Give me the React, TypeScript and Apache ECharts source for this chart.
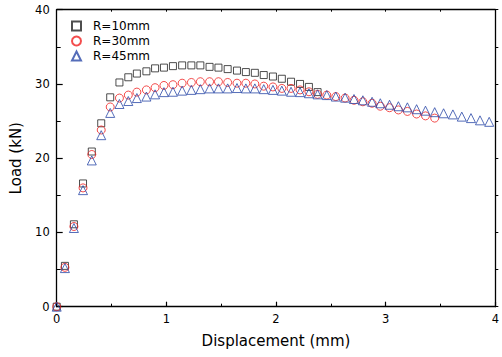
import React, { useEffect, useRef } from "react";
import * as echarts from "echarts";

// Displacement values (mm) shared by the three series
const displacement = [
  0, 0.075, 0.157, 0.24, 0.32, 0.406, 0.488, 0.572, 0.653, 0.731, 0.818, 0.897, 0.978,
  1.06, 1.144, 1.228, 1.31, 1.394, 1.475, 1.559, 1.644, 1.725, 1.807, 1.888, 1.972,
  2.053, 2.137, 2.219, 2.3, 2.379, 2.463, 2.545, 2.63, 2.711, 2.792, 2.876, 2.951,
  3.035, 3.116, 3.198, 3.282, 3.363, 3.447, 3.528, 3.613, 3.694, 3.778, 3.86, 3.944,
];

// Load (kN)
const loadR10 = [
  0, 5.5, 11.1, 16.6, 20.9, 24.7, 28.2, 30.2, 30.9, 31.4, 31.7, 32.1, 32.2, 32.4, 32.5,
  32.5, 32.5, 32.3, 32.2, 32.0, 31.8, 31.6, 31.5, 31.2, 31.0, 30.7, 30.3, 30.0, 29.6, 28.9,
];
const loadR30 = [
  0, 5.3, 10.8, 16.0, 20.5, 23.8, 26.9, 28.1, 28.5, 28.9, 29.2, 29.5, 29.8, 29.9, 30.1,
  30.2, 30.3, 30.3, 30.3, 30.2, 30.1, 30.1, 30.0, 29.7, 29.6, 29.4, 29.4, 29.2, 28.95,
  28.6, 28.5, 28.3, 28.1, 27.8, 27.6, 27.4, 27.0, 26.8, 26.5, 26.3, 25.95, 25.7, 25.4,
];
const loadR45 = [
  0, 5.2, 10.6, 15.7, 19.7, 23.1, 26.1, 27.3, 27.7, 28.1, 28.3, 28.6, 28.9, 28.95, 29.1,
  29.2, 29.3, 29.4, 29.4, 29.4, 29.45, 29.4, 29.4, 29.3, 29.2, 29.1, 28.95, 28.9, 28.75,
  28.6, 28.5, 28.3, 28.15, 27.97, 27.8, 27.6, 27.4, 27.2, 27.0, 26.85, 26.6, 26.4, 26.2,
  26.05, 25.9, 25.6, 25.4, 25.1, 24.9,
];

const seriesNames = ["R=10mm", "R=30mm", "R=45mm"];
const xTicks = [0, 1, 2, 3, 4];
const yTicks = [0, 10, 20, 30, 40];

const FONT = "DejaVu Sans";

function pairs(ys: number[]) {
  return ys.map((y, i) => [displacement[i], y]);
}

export default function App() {
  const ref = useRef<HTMLDivElement>(null);
  useEffect(() => {
    if (!ref.current) return;
    const chart = echarts.init(ref.current, null, { renderer: "svg" });
    const axisLine = { show: true, onZero: false, lineStyle: { color: "#000", width: 1.3 } };
    const option: any = {
      animation: false,
      backgroundColor: "#fff",
      grid: { left: 56.7, right: 3.7, top: 9.7, bottom: 50.3, containLabel: false },
      legend: {
        left: 66,
        top: 15,
        orient: "vertical",
        itemGap: 3,
        itemWidth: 9,
        itemHeight: 9,
        textStyle: { fontFamily: FONT, fontSize: 12, color: "#000", padding: [0, 0, 0, 7] },
        data: seriesNames,
      },
      xAxis: [
        {
          type: "value",
          min: xTicks[0],
          max: xTicks[xTicks.length - 1],
          interval: 1,
          name: "Displacement (mm)",
          nameLocation: "middle",
          nameGap: 27,
          nameTextStyle: { fontFamily: FONT, fontSize: 15, color: "#000" },
          axisLine,
          axisTick: { show: true, inside: true, length: 5, lineStyle: { color: "#000", width: 1.2 } },
          minorTick: { show: true, splitNumber: 2, length: 3, lineStyle: { color: "#000", width: 1 } },
          axisLabel: { fontFamily: FONT, fontSize: 11.5, color: "#000", margin: 6 },
          splitLine: { show: false },
        },
        {
          type: "value",
          position: "top",
          min: xTicks[0],
          max: xTicks[xTicks.length - 1],
          interval: 1,
          axisLine,
          axisTick: { show: true, inside: true, length: 2, lineStyle: { color: "#000" } },
          minorTick: { show: true, splitNumber: 2, length: 2, lineStyle: { color: "#000" } },
          axisLabel: { show: false },
          splitLine: { show: false },
        },
      ],
      yAxis: [
        {
          type: "value",
          min: yTicks[0],
          max: yTicks[yTicks.length - 1],
          interval: 10,
          name: "Load (kN)",
          nameLocation: "middle",
          nameGap: 33,
          nameTextStyle: { fontFamily: FONT, fontSize: 15, color: "#000" },
          axisLine,
          axisTick: { show: true, inside: true, length: 6, lineStyle: { color: "#000", width: 1.2 } },
          minorTick: { show: true, splitNumber: 2, length: 4, lineStyle: { color: "#000", width: 1 } },
          axisLabel: { fontFamily: FONT, fontSize: 11.5, color: "#000", margin: 7 },
          splitLine: { show: false },
        },
        {
          type: "value",
          position: "right",
          min: yTicks[0],
          max: yTicks[yTicks.length - 1],
          interval: 10,
          axisLine,
          axisTick: { show: true, inside: false, length: 3, lineStyle: { color: "#000" } },
          minorTick: { show: true, splitNumber: 2, length: 3, lineStyle: { color: "#000" } },
          axisLabel: { show: false },
          splitLine: { show: false },
        },
      ],
      series: [
        {
          name: seriesNames[0],
          type: "scatter",
          symbol: "rect",
          symbolSize: 7,
          itemStyle: { color: "rgba(255,255,255,0)", borderColor: "#222", borderWidth: 1 },
          data: pairs(loadR10),
          z: 3,
        },
        {
          name: seriesNames[1],
          type: "scatter",
          symbol: "circle",
          symbolSize: 8,
          itemStyle: { color: "rgba(255,255,255,0)", borderColor: "#f02020", borderWidth: 1 },
          data: pairs(loadR30),
          z: 4,
        },
        {
          name: seriesNames[2],
          type: "scatter",
          symbol: "triangle",
          symbolSize: 9,
          itemStyle: { color: "rgba(255,255,255,0)", borderColor: "#2a48a8", borderWidth: 1 },
          data: pairs(loadR45),
          z: 5,
        },
      ],
    };
    chart.setOption(option);
    return () => chart.dispose();
  }, []);
  return (
    <div
      ref={ref}
      style={{ position: "fixed", left: 0, top: 0, width: 502, height: 357, background: "#fff" }}
    />
  );
}
